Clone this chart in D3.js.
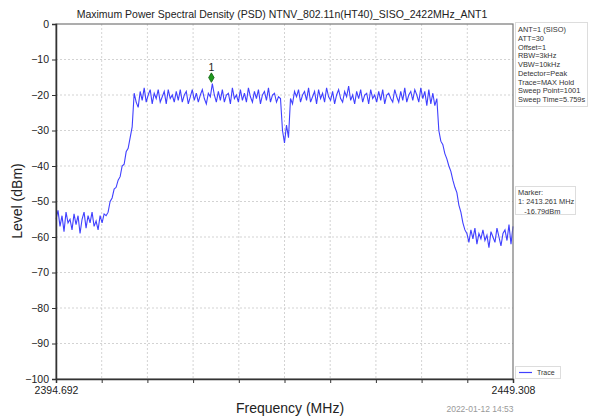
<!DOCTYPE html>
<html><head><meta charset="utf-8">
<script src="https://cdn.jsdelivr.net/npm/d3@7"></script>
<style>
body{margin:0;background:#fff;}
svg{display:block;font-family:"Liberation Sans",Arial,sans-serif;}
</style></head><body>
<svg id="c" width="589" height="419"></svg>
<script>
const title = "Maximum Power Spectral Density (PSD) NTNV_802.11n(HT40)_SISO_2422MHz_ANT1";
const freqStart = 2394.692, freqStop = 2449.308;
const xTickLabels = ["2394.692", "2449.308"];
const yTicks = [0, -10, -20, -30, -40, -50, -60, -70, -80, -90, -100];
const infoLines = ["ANT=1 (SISO)", "ATT=30", "Offset=1", "RBW=3kHz", "VBW=10kHz", "Detector=Peak", "Trace=MAX Hold", "Sweep Point=1001", "Sweep Time=5.759s"];
const markerFreq = 2413.261, markerLevel = -16.79;
const markerLines = ["Marker:", "1: 2413.261 MHz", "   -16.79dBm"];
const dateText = "2022-01-12 14:53";
// trace levels (dBm), evenly spaced over the sweep
const levelLow1 = [-55, -52.5, -57, -54, -58.5, -53, -56, -55, -58, -53.5, -56.5, -54, -59, -55, -53, -57.5, -54, -56, -53, -57, -55.5, -58, -54, -56, -53.5];
const levelRise = [-54, -53, -50, -49, -46.5, -46, -44, -43, -40, -39.5, -36, -35, -32, -29];
const levelTop1 = [-19.5, -22, -23.5, -19, -21.5, -18, -22, -20, -18.5, -22.5, -19.5, -21, -18.5, -22, -20.5, -19, -22.5, -18.5, -21, -20, -22, -19, -21.5, -18.5, -22, -20, -19, -22.5, -20.5, -18.5, -21.5, -19.5, -22, -20, -18.5, -21, -22.5, -19.5, -20.5,
  -16.79,
  -20, -22, -19, -21.5, -18.5, -22, -20, -19.5, -22.5, -18, -21, -20, -22, -18.5, -21.5, -19.5, -22, -18, -20.5, -22, -19, -21, -18.5, -22.5, -20, -19, -21.5, -18, -22, -20, -19.5, -22, -20.5, -21];
const levelDip = [-30, -33.5, -28.5, -32];
const levelTop2 = [-21, -22.5, -19, -20.5, -18.5, -22, -20, -19, -21.5, -18, -22, -20.5, -19, -22.5, -18.5, -21, -19.5, -22, -18, -20.5, -21.5, -19, -22.5, -20, -18.5, -21, -22, -19, -20.5, -17.5, -21.5, -20, -22.5, -19, -21, -18.5, -22, -20, -19.5, -22.5, -18.5, -21, -20, -22, -19, -21.5, -18.5, -22.5, -20, -19.5, -21, -22, -18.5, -20.5, -22, -19, -21.5, -18, -22, -20, -19, -21.5, -18.5, -20, -22, -18, -21, -19, -23, -18.5, -22.5, -19.5, -23, -21];
const levelFall = [-30, -33, -34, -36.5, -38, -40, -41.5, -44, -46, -47.5, -51, -53, -56, -58];
const levelLow2 = [-59, -61.5, -58, -60.5, -57.5, -62, -59, -60.5, -58, -61, -59.5, -63, -58.5, -60, -61.5, -57.5, -60, -62.5, -59, -58, -61, -56.5, -62, -57];

const levels = [].concat(levelLow1, levelRise, levelTop1, levelDip, levelTop2, levelFall, levelLow2);
const n = levels.length;
const trace = levels.map((v, i) => ({f: freqStart + (freqStop - freqStart) * i / (n - 1), v}));

const svg = d3.select("#c");
const L = 56, R = 513, T = 24, B = 379;
const x = d3.scaleLinear().domain([freqStart, freqStop]).range([L, R]);
const y = d3.scaleLinear().domain([-100, 0]).range([B, T]);
const xt = d3.range(11).map(i => freqStart + (freqStop - freqStart) * i / 10);

// grid
svg.append("g").selectAll("line").data(xt.slice(1, -1)).join("line")
  .attr("x1", d => x(d)).attr("x2", d => x(d)).attr("y1", T).attr("y2", B)
  .attr("stroke", "#c8c8c8").attr("stroke-dasharray", "2,2").attr("stroke-width", 0.8);
svg.append("g").selectAll("line").data(yTicks.slice(1, -1)).join("line")
  .attr("x1", L).attr("x2", R).attr("y1", d => y(d)).attr("y2", d => y(d))
  .attr("stroke", "#c8c8c8").attr("stroke-dasharray", "2,2").attr("stroke-width", 0.8);

// trace
svg.append("path").datum(trace)
  .attr("d", d3.line().x(d => x(d.f)).y(d => y(d.v)))
  .attr("fill", "none").attr("stroke", "#4040ff").attr("stroke-width", 1.1);

// frame
svg.append("rect").attr("x", L).attr("y", T).attr("width", R - L).attr("height", B - T)
  .attr("fill", "none").attr("stroke", "#777").attr("stroke-width", 1.2);

// axes
const yAxis = svg.append("g").attr("transform", `translate(${L},0)`)
  .call(d3.axisLeft(y).tickValues(yTicks).tickSize(4).tickPadding(3).tickFormat(d3.format("d")));
const xAxis = svg.append("g").attr("transform", `translate(0,${B})`)
  .call(d3.axisBottom(x).tickValues(xt).tickSize(4).tickPadding(4)
    .tickFormat((d, i) => i === 0 ? xTickLabels[0] : (i === xt.length - 1 ? xTickLabels[1] : "")));
[yAxis, xAxis].forEach(g => {
  g.select(".domain").attr("stroke", "#333").attr("stroke-width", 1.5);
  g.selectAll(".tick line").attr("stroke", "#333");
  g.selectAll("text").attr("font-size", 10.5).attr("fill", "#222").attr("font-family", "Liberation Sans, Arial, sans-serif");
});

// marker
const mx = x(markerFreq), my = y(markerLevel) - 6;
svg.append("path").attr("d", d3.symbol(d3.symbolDiamond, 26)())
  .attr("transform", `translate(${mx},${my})`).attr("fill", "#1f9a1f").attr("stroke", "#0b5e0b").attr("stroke-width", 0.8);
svg.append("text").attr("x", mx).attr("y", my - 6.5).attr("text-anchor", "middle")
  .attr("font-size", 10.5).attr("fill", "#222").text("1");

// title and axis labels
svg.append("text").attr("x", 282).attr("y", 18).attr("text-anchor", "middle")
  .attr("font-size", 10.5).attr("fill", "#222").text(title);
svg.append("text").attr("transform", "translate(22,201) rotate(-90)").attr("text-anchor", "middle")
  .attr("font-size", 14).attr("fill", "#222").text("Level (dBm)");
svg.append("text").attr("x", 290).attr("y", 413).attr("text-anchor", "middle")
  .attr("font-size", 14).attr("fill", "#222").text("Frequency (MHz)");
svg.append("text").attr("x", 480).attr("y", 412).attr("text-anchor", "middle")
  .attr("font-size", 8.5).attr("fill", "#999").text(dateText);

// info box
svg.append("rect").attr("x", 515.5).attr("y", 22.5).attr("width", 72).attr("height", 84)
  .attr("fill", "#fff").attr("stroke", "#ddd");
svg.append("g").selectAll("text").data(infoLines).join("text")
  .attr("x", 518).attr("y", (d, i) => 32 + i * 8.75).attr("font-size", 7.4).attr("fill", "#333").text(d => d);

// marker box
svg.append("rect").attr("x", 515.5).attr("y", 186.5).attr("width", 60).attr("height", 28)
  .attr("fill", "#fff").attr("stroke", "#ddd");
svg.append("g").selectAll("text").data(markerLines).join("text")
  .attr("x", 518).attr("y", (d, i) => 194.5 + i * 9.5).attr("font-size", 7.4).attr("fill", "#333")
  .attr("xml:space", "preserve").style("white-space", "pre").text(d => d);

// legend
svg.append("rect").attr("x", 515.5).attr("y", 366.5).attr("width", 45).attr("height", 12)
  .attr("fill", "#fff").attr("stroke", "#ddd");
svg.append("line").attr("x1", 519).attr("x2", 532).attr("y1", 372.5).attr("y2", 372.5)
  .attr("stroke", "#4040ff").attr("stroke-width", 1.2);
svg.append("text").attr("x", 537).attr("y", 375).attr("font-size", 7).attr("fill", "#333").text("Trace");
</script>
</body></html>
